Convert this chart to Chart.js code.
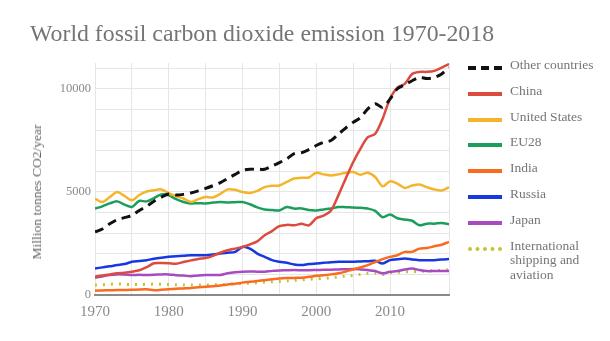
<!DOCTYPE html>
<html>
<head>
<meta charset="utf-8">
<script src="https://cdn.jsdelivr.net/npm/chart.js@4"></script>
<style>
  body { margin:0; background:#fff; font-family:"Liberation Serif", serif; }
  #wrap { position:relative; width:610px; height:341px; }
  #title { position:absolute; left:30px; top:20px; font-size:23.8px; color:#757575; white-space:nowrap; }
  #ylab { position:absolute; left:37px; top:192px; font-size:13.5px; color:#666; white-space:nowrap;
          transform:translate(-50%,-50%) rotate(-90deg); }
  #legend { position:absolute; left:466px; top:58px; }
  .item { position:relative; height:25.8px; font-size:13.5px; color:#757575; }
  .item span.sw { position:absolute; left:2px; top:8px; width:34px; height:0; }
  .item span.tx { position:absolute; left:44px; top:0; line-height:14.5px; white-space:nowrap; }
  canvas { position:absolute; left:0; top:0; }
</style>
</head>
<body>
<div id="wrap">
  <canvas id="c" width="610" height="341"></canvas>
  <div id="title">World fossil carbon dioxide emission 1970-2018</div>
  <div id="ylab">Million tonnes CO2/year</div>
  <div id="legend"></div>
</div>
<script>
const years = [];
for (let y = 1970; y <= 2018; y++) years.push(y);

// gridlines every 1000, labels only every 5000
const yGrid = [0,1000,2000,3000,4000,5000,6000,7000,8000,9000,10000,11000];
const yLabels = [0, 5000, 10000];

// Mt CO2 per year
const other = [3060,3200,3450,3650,3750,3860,4100,4300,4550,4750,4900,4850,4880,4950,5050,5170,5300,5450,5650,5850,6040,6100,6100,6100,6250,6420,6600,6850,6900,7050,7250,7400,7490,7800,8100,8370,8600,9030,9270,9100,9500,10000,10200,10390,10550,10500,10550,10720,11030];
const china = [885,950,1000,1050,1080,1130,1200,1350,1540,1550,1540,1520,1600,1680,1750,1790,1900,2050,2170,2250,2330,2450,2600,2900,3100,3340,3400,3380,3450,3380,3720,3850,4100,4830,5650,6440,7100,7650,7820,8550,9520,10060,10240,10720,10820,10820,10870,11030,11200];
const us = [4670,4510,4750,4990,4800,4590,4850,5020,5080,5120,4930,4800,4680,4510,4650,4750,4730,4900,5120,5100,4990,4950,5050,5230,5300,5310,5480,5650,5680,5700,5930,5850,5800,5850,5930,5960,5830,5930,5720,5270,5510,5400,5190,5310,5360,5230,5120,5070,5230];
const eu = [4190,4300,4440,4540,4380,4270,4560,4540,4700,4880,4830,4650,4510,4440,4450,4440,4480,4510,4490,4500,4510,4400,4250,4150,4120,4100,4270,4190,4200,4120,4100,4150,4190,4270,4260,4240,4230,4190,4080,3770,3900,3720,3660,3600,3380,3460,3460,3490,3430];
const india = [210,220,230,240,245,250,270,275,230,250,275,300,320,340,370,400,430,460,510,550,600,640,680,720,760,800,820,830,840,880,930,960,1000,1050,1140,1240,1340,1450,1600,1740,1850,1930,2090,2090,2250,2280,2360,2440,2580];
const russia = [1290,1340,1390,1450,1500,1610,1650,1690,1760,1810,1850,1880,1900,1930,1930,1930,1960,2010,2050,2090,2330,2250,2010,1850,1690,1610,1560,1480,1450,1500,1530,1560,1590,1610,1610,1610,1630,1640,1660,1530,1690,1730,1770,1720,1690,1680,1690,1720,1740];
const japan = [840,900,970,1000,990,970,980,970,980,1000,1000,960,940,910,950,970,970,970,1050,1100,1130,1140,1130,1130,1170,1190,1200,1210,1200,1200,1210,1220,1230,1240,1250,1260,1240,1210,1160,1050,1130,1160,1240,1290,1210,1160,1160,1160,1160];
const shipping = [480,500,520,540,520,500,510,520,530,520,510,500,490,480,480,480,490,500,520,540,560,580,600,620,640,650,680,710,730,760,780,810,830,880,920,950,1000,1050,1060,1000,1080,1100,1120,1130,1140,1160,1180,1200,1220];

const names  = ['Other countries','China','United States','EU28','India','Russia','Japan','International shipping and aviation'];
const series = [other, china, us, eu, india, russia, japan, shipping];
const colors = ['#111111','#dd4b3f','#f4b52c','#1b9e5c','#fa6a1f','#1638e0','#a64bc0','#c5c23a'];
const dashes = [[9,6],[],[],[],[],[],[],[2,6]];

const datasets = series.map((vals, i) => ({
  label: names[i],
  data: vals.map((v, j) => ({ x: years[j], y: v })),
  borderColor: colors[i],
  borderWidth: i === 0 ? 3 : (i === 7 ? 3 : 2.5),
  borderDash: dashes[i],
  pointRadius: 0,
  tension: 0.3,
  fill: false,
  order: i,
}));

// legend on the right
const leg = document.getElementById('legend');
names.forEach((n, i) => {
  const d = document.createElement('div');
  d.className = 'item';
  let sw;
  if (i === 0) sw = `border-top:4px dashed ${colors[i]};`;
  else if (i === 7) sw = `border-top:4px dotted ${colors[i]};`;
  else sw = `border-top:4px solid ${colors[i]};`;
  const label = i === 7 ? 'International<br>shipping and<br>aviation' : n;
  d.innerHTML = `<span class="sw" style="${sw}"></span><span class="tx">${label}</span>`;
  leg.appendChild(d);
});

new Chart(document.getElementById('c'), {
  type: 'line',
  data: { datasets },
  options: {
    responsive: false,
    animation: false,
    layout: { padding: { left: 0, right: 161, top: 63, bottom: 0 } },
    plugins: { legend: { display: false }, title: { display: false }, tooltip: { enabled: false } },
    scales: {
      x: {
        type: 'linear', min: 1970, max: 2018,
        afterFit: s => { s.height = 46; },
        grid: { color: '#e6e6e6', drawTicks: false },
        border: { color: '#8a8a8a', width: 2 },
        ticks: {
          stepSize: 5, padding: 8, color: '#8a8a8a', maxRotation: 0, autoSkip: false,
          font: { family: 'Liberation Serif', size: 15 },
          callback: v => (v % 10 === 0 ? String(v) : ''),
        },
      },
      y: {
        min: 0, max: 11250,
        afterFit: s => { s.width = 95; },
        afterBuildTicks: s => { s.ticks = yGrid.map(v => ({ value: v })); },
        grid: { color: '#e6e6e6', drawTicks: false },
        border: { display: false },
        ticks: {
          padding: 4, color: '#8a8a8a', autoSkip: false,
          font: { family: 'Liberation Serif', size: 12.5 },
          callback: v => (yLabels.includes(v) ? String(v) : ''),
        },
      },
    },
  },
});
</script>
</body>
</html>
